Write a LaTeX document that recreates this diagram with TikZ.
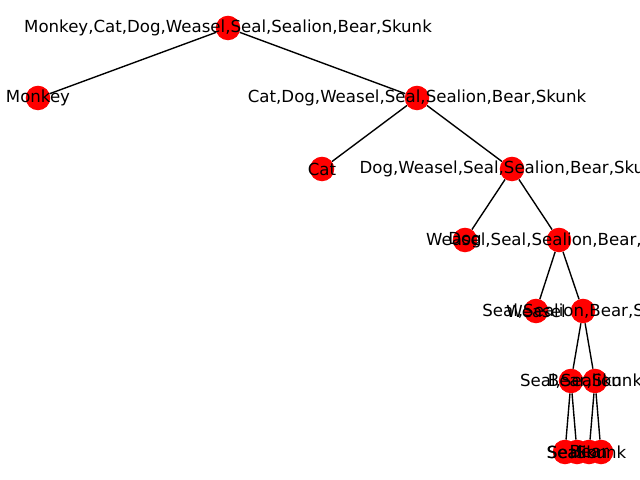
\documentclass[tikz,border=0pt]{standalone}
\usepackage{fontspec}
\setmainfont{DejaVu Sans}

\begin{document}
\begin{tikzpicture}[x=0.01in,y=-0.01in,
	taxon/.style={circle,fill=red,minimum size=0.245in,inner sep=0pt},
	edge/.style={line width=1pt},
	lab/.style={font=\fontsize{12}{14}\selectfont,inner sep=0pt}]
	\useasboundingbox (0,0) rectangle (640,480);
	% clusters
	\node[taxon] (all) at (228,28) {};
	\node[taxon] (monkey) at (38,98) {};
	\node[taxon] (cdwssbs) at (417,98) {};
	\node[taxon] (cat) at (322,169) {};
	\node[taxon] (dwssbs) at (512,169) {};
	\node[taxon] (dog) at (465,240) {};
	\node[taxon] (wssbs) at (559,240) {};
	\node[taxon] (weasel) at (536,311) {};
	\node[taxon] (ssbs) at (583,311) {};
	\node[taxon] (ss) at (571,381) {};
	\node[taxon] (bs) at (595,381) {};
	\foreach \n/\x in {seal/565,sealion/577,bear/589,skunk/601}
	{
		\node[taxon] (\n) at (\x,452) {};
	}
	% edges
	\draw[edge] (all) -- (monkey);
	\draw[edge] (all) -- (cdwssbs);
	\draw[edge] (cdwssbs) -- (cat);
	\draw[edge] (cdwssbs) -- (dwssbs);
	\draw[edge] (dwssbs) -- (dog);
	\draw[edge] (dwssbs) -- (wssbs);
	\draw[edge] (wssbs) -- (weasel);
	\draw[edge] (wssbs) -- (ssbs);
	\draw[edge] (ssbs) -- (ss);
	\draw[edge] (ssbs) -- (bs);
	\draw[edge] (ss) -- (seal);
	\draw[edge] (ss) -- (sealion);
	\draw[edge] (bs) -- (bear);
	\draw[edge] (bs) -- (skunk);
	% labels
	\node[lab] (allL) at (all) {Monkey,Cat,Dog,Weasel,Seal,Sealion,Bear,Skunk};
	\node[lab] (monkeyL) at (monkey) {Monkey};
	\node[lab] (cdwssbsL) at (cdwssbs) {Cat,Dog,Weasel,Seal,Sealion,Bear,Skunk};
	\node[lab] (catL) at (cat) {Cat};
	\node[lab] (dwssbsL) at (dwssbs) {Dog,Weasel,Seal,Sealion,Bear,Skunk};
	\node[lab] (dogL) at (dog) {Dog};
	\node[lab] (wssbsL) at (wssbs) {Weasel,Seal,Sealion,Bear,Skunk};
	\node[lab] (weaselL) at (weasel) {Weasel};
	\node[lab] (ssbsL) at (ssbs) {Seal,Sealion,Bear,Skunk};
	\node[lab] (ssL) at (ss) {Seal,Sealion};
	\node[lab] (bsL) at (bs) {Bear,Skunk};
	\foreach \n/\t in {seal/Seal,sealion/Sealion,bear/Bear,skunk/Skunk}
	{
		\node[lab] (\n L) at (\n) {\t};
	}
\end{tikzpicture}
\end{document}
